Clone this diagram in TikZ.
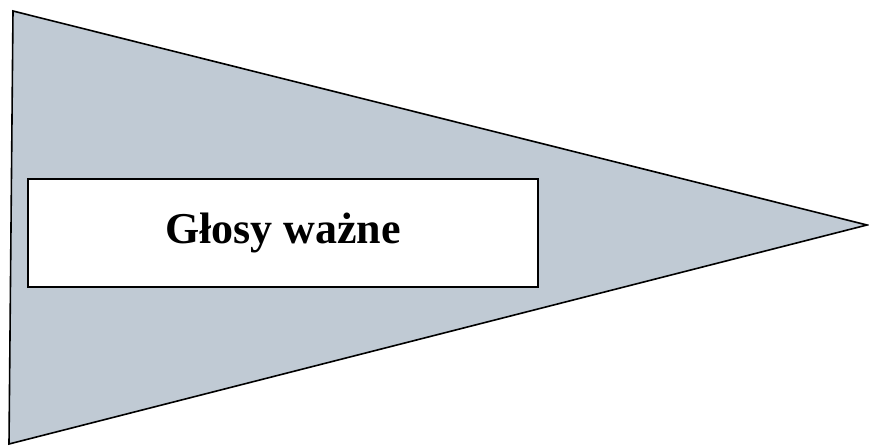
\documentclass[tikz,border=0pt]{standalone}
\usepackage{fontspec}
\setmainfont{Liberation Serif}
\definecolor{flaggray}{RGB}{192,202,212}
\begin{document}
\begin{tikzpicture}[x=1pt,y=-1pt,
  flag/.style={draw=black,fill=flaggray,line width=1.6pt,line join=miter},
  label box/.style={draw=black,fill=white,line width=1.2pt,minimum width=510pt,minimum height=108pt,inner sep=0pt,
    font=\fontsize{44}{48}\selectfont\bfseries}]
\useasboundingbox (0,0) rectangle (869,445);
\coordinate (tl) at (13,11);
\coordinate (bl) at (9,444);
\coordinate (tip) at (867,225);
\draw[flag] (tl) -- (tip) -- (bl) -- cycle;
\node[label box] (lbl) at (283,233) {Głosy ważne};
\end{tikzpicture}
\end{document}
